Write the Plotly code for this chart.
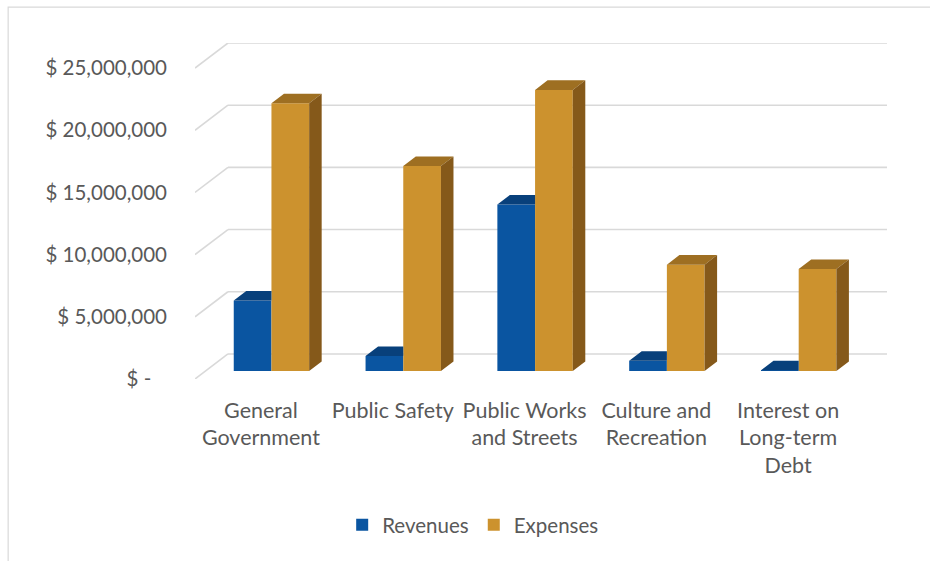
import plotly.graph_objects as go

# ---------------- data ----------------
categories = ["General<br>Government", "Public Safety", "Public Works<br>and Streets",
              "Culture and<br>Recreation", "Interest on<br>Long-term<br>Debt"]
revenues = [5_670_000, 1_210_000, 13_390_000, 830_000, 50_000]
expenses = [21_530_000, 16_480_000, 22_600_000, 8_550_000, 8_200_000]
tick_values = [0, 5_000_000, 10_000_000, 15_000_000, 20_000_000, 25_000_000]
tick_labels = ["$ -\u00a0\u00a0\u00a0", "$ 5,000,000", "$ 10,000,000",
               "$ 15,000,000", "$ 20,000,000", "$ 25,000,000"]

# ---------------- pseudo-3D geometry (axis units) ----------------
DX = 0.25          # back-wall horizontal offset (category units)
DY = 2.016e6       # back-wall vertical offset (value units)
FRONT = 0.32       # depth fraction of bar front face
DEPTH = 0.38       # bar depth as fraction of wall depth
W = 0.286          # bar width
YMAX = 25_000_000 + DY

FONT = dict(family="Lato, 'Open Sans', sans-serif", size=20.5, color="#595959")
XFONT = dict(family="Lato, 'Open Sans', sans-serif", size=21.5, color="#595959")

series = [
    dict(name="Revenues", values=revenues, shift=-W,
         front="#0A55A1", top="#08407B", side="#06386C"),
    dict(name="Expenses", values=expenses, shift=0.0,
         front="#CC922E", top="#9E6F22", side="#85591A"),
]

fig = go.Figure()

# gridlines (floor diagonal + back wall) as below-layer shapes
shapes = []
for v in tick_values:
    shapes.append(dict(type="line", xref="x", yref="y", layer="below",
                       x0=-0.5, y0=v, x1=-0.5 + DX, y1=v + DY,
                       line=dict(color="#D9D9D9", width=1.6)))
    shapes.append(dict(type="line", xref="x", yref="y", layer="below",
                       x0=-0.5 + DX, y0=v + DY, x1=len(categories) - 0.5 + DX, y1=v + DY,
                       line=dict(color="#D9D9D9", width=1.6)))
# chart border
shapes.append(dict(type="rect", xref="paper", yref="paper",
                   x0=-0.270, y0=-0.7, x1=1.3, y1=1.107,
                   line=dict(color="#D9D9D9", width=1.2), layer="below"))

bdx = DEPTH * DX
bdy = DEPTH * DY
base = FRONT * DY

for s_i, s in enumerate(series):
    xs_front = [i + s["shift"] + FRONT * DX + W / 2 for i in range(len(categories))]
    fig.add_trace(go.Bar(
        x=xs_front, y=s["values"], base=[base] * len(categories), width=W,
        name=s["name"], marker=dict(color=s["front"], line=dict(width=0)),
        showlegend=True))
    tx, ty, sx, sy = [], [], [], []
    for i, v in enumerate(s["values"]):
        x0 = i + s["shift"] + FRONT * DX
        x1 = x0 + W
        top = base + v
        if s_i == 0:
            # top face clipped at the neighbouring bar's front face
            tx += [x0, x1, x1, x0 + bdx, x0, None]
            ty += [top, top, top + bdy, top + bdy, top, None]
        else:
            tx += [x0, x1, x1 + bdx, x0 + bdx, x0, None]
            ty += [top, top, top + bdy, top + bdy, top, None]
            sx += [x1, x1 + bdx, x1 + bdx, x1, x1, None]
            sy += [base, base + bdy, top + bdy, top, base, None]
    fig.add_trace(go.Scatter(x=tx, y=ty, mode="lines", fill="toself",
                             fillcolor=s["top"], line=dict(width=0, color=s["top"]),
                             showlegend=False, hoverinfo="skip"))
    if sx:
        fig.add_trace(go.Scatter(x=sx, y=sy, mode="lines", fill="toself",
                                 fillcolor=s["side"], line=dict(width=0, color=s["side"]),
                                 showlegend=False, hoverinfo="skip"))

fig.update_layout(
    width=930, height=561,
    margin=dict(l=195, r=43, t=43, b=182),
    paper_bgcolor="white", plot_bgcolor="white",
    font=FONT,
    barmode="overlay",
    shapes=shapes,
    showlegend=True,
    legend=dict(orientation="h", x=0.402, xanchor="center", y=-0.4345, yanchor="middle",
                font=FONT, itemclick=False, itemdoubleclick=False, traceorder="normal"),
    xaxis=dict(range=[-0.5, len(categories) - 0.5 + DX],
               tickmode="array", tickvals=list(range(len(categories))), ticktext=categories,
               showgrid=False, zeroline=False, showline=False, ticks="",
               ticklabelstandoff=16, tickfont=XFONT, fixedrange=True),
    yaxis=dict(range=[0, YMAX], tickmode="array", tickvals=tick_values, ticktext=tick_labels,
               showgrid=False, zeroline=False, showline=False, ticks="",
               ticklabelstandoff=27, tickfont=FONT, fixedrange=True),
)

fig.write_html("out.html")
